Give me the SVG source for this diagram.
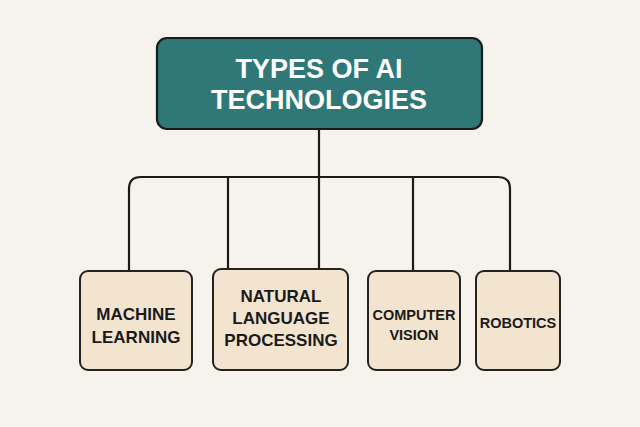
<svg xmlns="http://www.w3.org/2000/svg" width="640" height="427" viewBox="0 0 640 427">
<style>
.b{fill:#f3e4d0;stroke:#222;stroke-width:2}
.t{font-family:"Liberation Sans",Arial,sans-serif;font-weight:bold;fill:#1a1a1a;text-anchor:middle}
.c{fill:none;stroke:#1a1a1a;stroke-width:2.2}
</style>
<rect width="640" height="427" fill="#f6f3ed"/>
<g id="connectors">
<path class="c" d="M319 129V177M129 271V189Q129 177 141 177H498Q510 177 510 189V271M228 177V269M319 177V269M413 177V271"/>
</g>
<g id="root">
<rect x="157" y="38" width="325" height="91" rx="10" fill="#2f7877" stroke="#1a1a1a" stroke-width="2.2"/>
<text class="t" x="319" y="78" font-size="27" style="fill:#fff">TYPES OF AI</text>
<text class="t" x="319" y="109" font-size="27" style="fill:#fff">TECHNOLOGIES</text>
</g>
<g id="ml">
<rect class="b" x="80" y="271" width="112" height="99" rx="8"/>
<text class="t" x="136" y="320" font-size="17">MACHINE</text>
<text class="t" x="136" y="343" font-size="17">LEARNING</text>
</g>
<g id="nlp">
<rect class="b" x="213" y="269" width="135" height="101" rx="8"/>
<text class="t" x="281" y="302" font-size="17">NATURAL</text>
<text class="t" x="281" y="324" font-size="17">LANGUAGE</text>
<text class="t" x="281" y="346" font-size="17">PROCESSING</text>
</g>
<g id="cv">
<rect class="b" x="368" y="271" width="92" height="99" rx="8"/>
<text class="t" x="414" y="320" font-size="14.5">COMPUTER</text>
<text class="t" x="414" y="340" font-size="14.5">VISION</text>
</g>
<g id="robotics">
<rect class="b" x="476" y="271" width="84" height="99" rx="8"/>
<text class="t" x="518" y="328" font-size="14.5">ROBOTICS</text>
</g>
</svg>
